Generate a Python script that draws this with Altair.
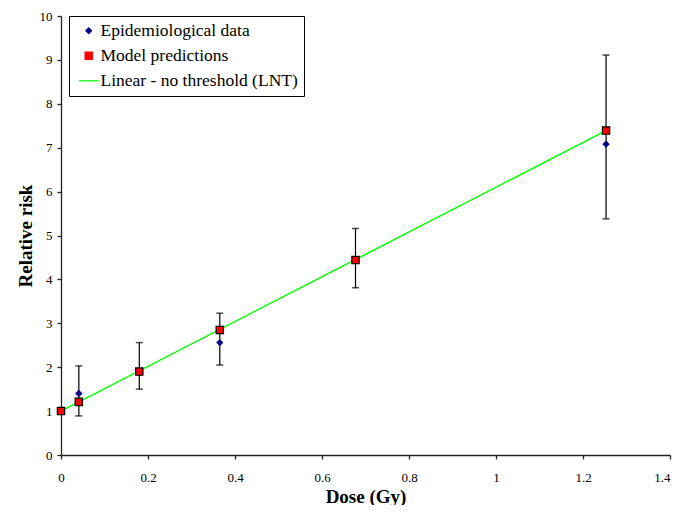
import altair as alt
import pandas as pd

dose = [0.0, 0.041, 0.18, 0.365, 0.677, 1.253]
epi_rr = [1.0, 1.40, 1.88, 2.56, 4.44, 7.08]
model_rr = [1.0, 1.21, 1.90, 2.85, 4.44, 7.39]

err_dose = [0.041, 0.18, 0.365, 0.677, 1.253]
err_lo = [0.89, 1.50, 2.05, 3.81, 5.38]
err_hi = [2.03, 2.56, 3.23, 5.16, 9.11]

lnt_dose = [0.0, 1.253]
lnt_rr = [1.0, 7.39]

x_ticks = [0, 0.2, 0.4, 0.6, 0.8, 1.0, 1.2, 1.4]
y_ticks = list(range(0, 11))

S_EPI = "Epidemiological data"
S_MOD = "Model predictions"
S_LNT = "Linear - no threshold (LNT)"
series_domain = [S_EPI, S_MOD, S_LNT]

pts = pd.DataFrame(
    {"dose": dose + dose, "rr": epi_rr + model_rr,
     "series": [S_EPI] * len(dose) + [S_MOD] * len(dose)}
)
err = pd.DataFrame({"dose": err_dose, "lo": err_lo, "hi": err_hi})
lnt = pd.DataFrame({"dose": lnt_dose, "rr": lnt_rr, "series": [S_LNT] * len(lnt_dose)})

FONT = "Liberation Serif"

xs = alt.Scale(domain=[0, 1.4], nice=False)
ys = alt.Scale(domain=[0, 10], nice=False)

xax = alt.Axis(values=x_ticks, format="~g", title="Dose (Gy)", grid=False,
               labelFlush=False, labelPadding=12, titlePadding=3,
               labelAlign={"condition": {"test": "datum.value >= 1.4", "value": "right"},
                           "value": "center"})
yax = alt.Axis(values=y_ticks, title="Relative risk", grid=False,
               labelPadding=5, titlePadding=4)

color_scale = alt.Scale(domain=series_domain, range=["#000080", "#ff0000", "#00ff00"])
shape_scale = alt.Scale(domain=series_domain, range=["diamond", "square", "M-2.3,0H2.3"])
stroke_scale = alt.Scale(domain=series_domain, range=["#000080", "#000000", "#00ff00"])
size_scale = alt.Scale(domain=series_domain, range=[32, 75, 100])

legend = alt.Legend(title=None, orient="none", legendX=8, legendY=0,
                    fillColor="white", strokeColor="black", padding=6,
                    labelFont=FONT, labelFontSize=17.5, labelColor="black",
                    labelLimit=400, labelOffset=3, symbolOffset=5,
                    rowPadding=6, symbolStrokeWidth=1.2)

line = alt.Chart(lnt).mark_line(strokeWidth=1.5).encode(
    x=alt.X("dose:Q", scale=xs, axis=xax),
    y=alt.Y("rr:Q", scale=ys, axis=yax),
    color=alt.Color("series:N", scale=color_scale, legend=legend),
)

rules = alt.Chart(err).mark_rule(color="black", strokeWidth=1.2).encode(
    x=alt.X("dose:Q", scale=xs),
    y=alt.Y("lo:Q", scale=ys),
    y2="hi:Q",
)
caps_lo = alt.Chart(err).mark_tick(color="black", orient="horizontal", size=7, thickness=1.5).encode(
    x=alt.X("dose:Q", scale=xs), y=alt.Y("lo:Q", scale=ys))
caps_hi = alt.Chart(err).mark_tick(color="black", orient="horizontal", size=7, thickness=1.5).encode(
    x=alt.X("dose:Q", scale=xs), y=alt.Y("hi:Q", scale=ys))

points = alt.Chart(pts).mark_point(filled=True, strokeWidth=1.2, opacity=1).encode(
    x=alt.X("dose:Q", scale=xs),
    y=alt.Y("rr:Q", scale=ys),
    color=alt.Color("series:N", scale=color_scale, legend=legend),
    shape=alt.Shape("series:N", scale=shape_scale, legend=legend),
    stroke=alt.Stroke("series:N", scale=stroke_scale, legend=legend),
    size=alt.Size("series:N", scale=size_scale, legend=legend),
)

chart = alt.layer(line, rules, caps_lo, caps_hi, points).properties(
    width=609, height=439,
    autosize=alt.AutoSizeParams(type="none"),
    padding={"left": 53, "top": 8, "right": 2, "bottom": 50},
).configure_view(strokeWidth=0).configure_axis(
    labelFont=FONT, labelFontSize=13, labelColor="black",
    titleFont=FONT, titleFontSize=19, titleFontWeight="bold", titleColor="black",
    domainColor="#222222", tickColor="#222222", tickSize=4, domainWidth=1.3, tickWidth=1.3,
)

chart.save("out.html", embed_options={"renderer": "svg", "actions": False})
